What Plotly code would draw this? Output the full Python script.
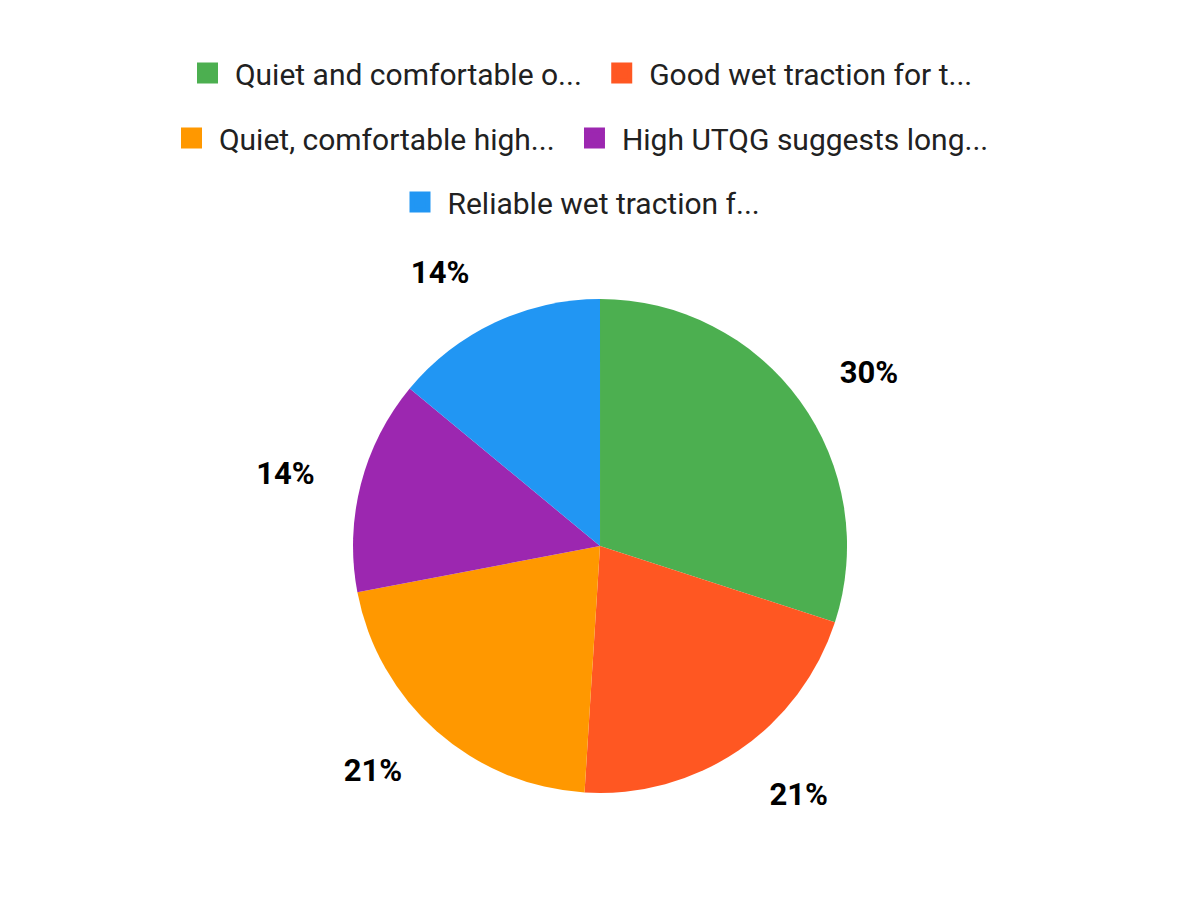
import plotly.graph_objects as go

# slices, clockwise from 12 o'clock
labels = [
    "Quiet and comfortable o...",
    "Good wet traction for t...",
    "Quiet, comfortable high...",
    "High UTQG suggests long...",
    "Reliable wet traction f...",
]
shares = [30, 21, 21, 14, 14]
colors = ["#4CAF50", "#FF5722", "#FF9800", "#9C27B0", "#2196F3"]

# which legend row each entry sits in
legendRows = ["legend", "legend", "legend2", "legend2", "legend3"]

FONT = "Roboto"
NBSP = "\u00a0"

fig = go.Figure()

# the coloured pie itself
fig.add_trace(go.Pie(
    labels=labels,
    values=shares,
    marker=dict(colors=colors, line=dict(width=0)),
    sort=False,
    direction="clockwise",
    textinfo="none",
    hoverinfo="skip",
    showlegend=False,
    domain=dict(x=[0.2875, 0.6992], y=[0.1278, 0.6767]),
))

# invisible wider pie only to push the % labels away from the edge
fig.add_trace(go.Pie(
    labels=labels,
    values=shares,
    marker=dict(colors=["rgba(0,0,0,0)"] * len(labels), line=dict(width=0)),
    sort=False,
    direction="clockwise",
    textinfo="percent",
    textposition="outside",
    outsidetextfont=dict(family=FONT, size=31, color="#000000", weight="bold"),
    hoverinfo="skip",
    showlegend=False,
    domain=dict(x=[0.2558, 0.7308], y=[0.0856, 0.7189]),
))

# legend entries, one legend per row so every row is centred
# (nbsp padding gives the wider spacing of the original legend)
for lab, col, lg in zip(labels, colors, legendRows):
    fig.add_trace(go.Scatter(
        x=[None], y=[None],
        mode="markers",
        name=NBSP + lab + NBSP * 2,
        marker=dict(symbol="square", size=16, color=col, line=dict(width=5, color=col)),
        legend=lg,
        hoverinfo="skip",
    ))

legendStyle = dict(
    orientation="h",
    x=0.485,
    xanchor="center",
    yanchor="middle",
    font=dict(family=FONT, size=30, color="#212121"),
    bgcolor="rgba(0,0,0,0)",
)

fig.update_layout(
    width=1200,
    height=900,
    paper_bgcolor="white",
    plot_bgcolor="white",
    margin=dict(l=0, r=0, t=0, b=0),
    xaxis=dict(visible=False),
    yaxis=dict(visible=False),
    legend=dict(y=0.9278, **legendStyle),
    legend2=dict(y=0.8555, **legendStyle),
    legend3=dict(y=0.7844, **legendStyle),
)

fig.write_html("out.html")
